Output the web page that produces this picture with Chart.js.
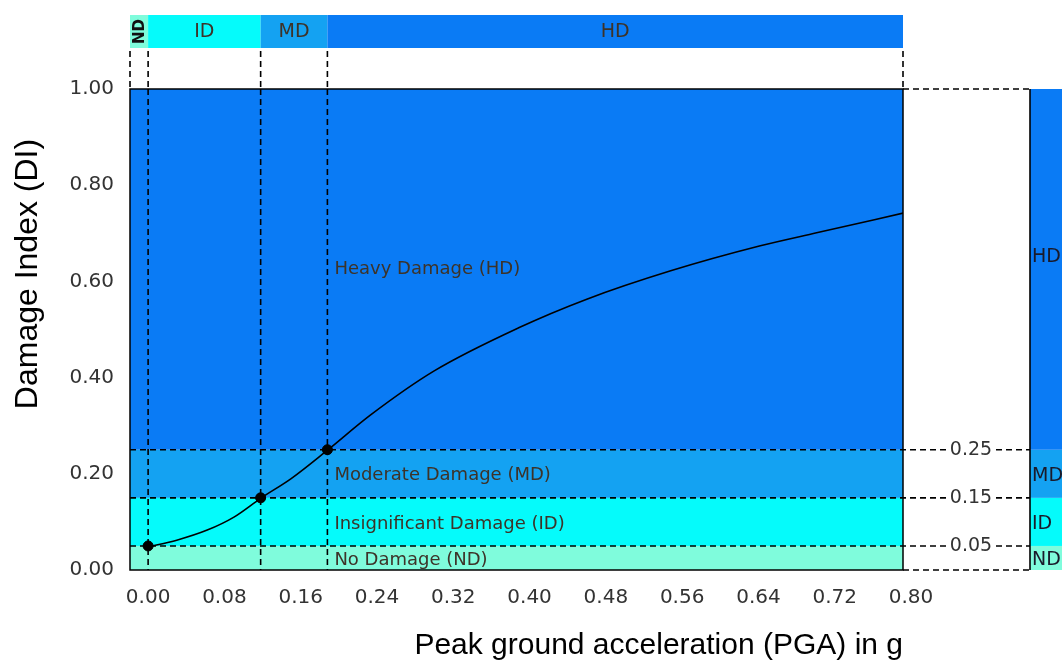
<!DOCTYPE html>
<html>
<head>
<meta charset="utf-8">
<script src="https://cdn.jsdelivr.net/npm/chart.js@4"></script>
<style>
  html, body { margin: 0; background: #fff; }
  #wrap { width: 1062px; height: 661px; position: relative; }
</style>
</head>
<body>
<div id="wrap"><canvas id="c"></canvas></div>
<script>
// damage curve
const pga = [0.000, 0.030, 0.062, 0.090, 0.118, 0.150, 0.188, 0.233, 0.300, 0.388, 0.460, 0.548, 0.642, 0.701, 0.792];
const damageIndex = [0.048, 0.062, 0.083, 0.110, 0.149, 0.190, 0.249, 0.322, 0.414, 0.503, 0.563, 0.622, 0.674, 0.701, 0.742];

// where the curve crosses each damage limit
const limitPga = [0.000, 0.118, 0.188];
const limitDi = [0.05, 0.15, 0.25];

const zoneCodes = ['ND', 'ID', 'MD', 'HD'];
const zoneNames = ['No Damage (ND)', 'Insignificant Damage (ID)', 'Moderate Damage (MD)', 'Heavy Damage (HD)'];
const zoneColors = ['#7ffcdc', '#05fbfb', '#14a2f2', '#0a7bf5'];

const xTicks = [0.00, 0.08, 0.16, 0.24, 0.32, 0.40, 0.48, 0.56, 0.64, 0.72, 0.80];
const yTicks = [0.00, 0.20, 0.40, 0.60, 0.80, 1.00];

const TXT = '#3d3328';
const FONT = 'DejaVu Sans';

function dashed(ctx, x0, y0, x1, y1) {
  ctx.beginPath();
  ctx.moveTo(x0, y0);
  ctx.lineTo(x1, y1);
  ctx.stroke();
}

const zonePlugin = {
  id: 'zones',
  beforeDatasetsDraw(chart) {
    const { ctx, chartArea: a, scales: { x, y } } = chart;
    const edges = [0, ...limitDi, 1];
    const xEdges = [a.left, ...limitPga.map(v => x.getPixelForValue(v)), a.right];
    const barTop = 15, barBot = 48, sideL = 1030;
    ctx.save();

    zoneColors.forEach((col, i) => {
      const y0 = y.getPixelForValue(edges[i]);
      const y1 = y.getPixelForValue(edges[i + 1]);
      ctx.fillStyle = col;
      ctx.fillRect(a.left, y1, a.width, y0 - y1);
      ctx.fillRect(sideL, y1, chart.width - sideL, y0 - y1);
      ctx.fillRect(xEdges[i], barTop, xEdges[i + 1] - xEdges[i], barBot - barTop);
    });

    // dashed guides
    ctx.strokeStyle = '#000';
    ctx.lineWidth = 1.6;
    ctx.setLineDash([6, 4]);
    xEdges.forEach((px, i) => {
      dashed(ctx, px, barBot + 3, px, a.top);
      if (i > 0 && i < xEdges.length - 1) dashed(ctx, px, a.top, px, a.bottom);
    });
    limitDi.forEach(v => {
      const py = y.getPixelForValue(v);
      dashed(ctx, a.left, py, 946, py);
      dashed(ctx, 996, py, sideL, py);
    });
    [0, 1].forEach(v => {
      const py = y.getPixelForValue(v);
      dashed(ctx, a.right, py, sideL, py);
    });
    ctx.setLineDash([]);

    // side strip edge
    ctx.strokeStyle = '#000';
    ctx.beginPath();
    ctx.moveTo(sideL, a.top);
    ctx.lineTo(sideL, a.bottom);
    ctx.stroke();

    ctx.textBaseline = 'middle';

    // limit values between the dashes
    ctx.font = `19px "${FONT}"`;
    ctx.fillStyle = '#333';
    ctx.textAlign = 'center';
    limitDi.forEach(v => ctx.fillText(v.toFixed(2), 971, y.getPixelForValue(v)));

    // zone names inside the plot
    ctx.font = `18px "${FONT}"`;
    ctx.fillStyle = TXT;
    ctx.textAlign = 'left';
    const labelX = x.getPixelForValue(limitPga[2]) + 7;
    zoneNames.forEach((name, i) => {
      const mid = i === 3 ? 0.63 : (edges[i] + edges[i + 1]) / 2;
      ctx.fillText(name, labelX, y.getPixelForValue(mid) + 2);
    });

    // side strip codes
    ctx.font = `19px "${FONT}"`;
    ctx.fillStyle = '#1a1a2a';
    zoneCodes.forEach((code, i) => {
      const mid = i === 3 ? 0.655 : (edges[i] + edges[i + 1]) / 2;
      ctx.fillText(code, sideL + 2, y.getPixelForValue(mid) + 2);
    });

    // top bar codes
    ctx.fillStyle = TXT;
    ctx.textAlign = 'center';
    zoneCodes.forEach((code, i) => {
      const cx = (xEdges[i] + xEdges[i + 1]) / 2;
      const cy = (barTop + barBot) / 2;
      if (i === 0) {
        ctx.save();
        ctx.translate(cx, cy);
        ctx.rotate(-Math.PI / 2);
        ctx.font = `bold 15px "${FONT}"`;
        ctx.fillStyle = '#111';
        ctx.fillText(code, 0, 1);
        ctx.restore();
      } else {
        ctx.fillText(code, cx, cy + 1);
      }
    });
    ctx.restore();
  },
  afterDatasetsDraw(chart) {
    const { ctx, chartArea: a } = chart;
    ctx.save();
    ctx.strokeStyle = '#000';
    ctx.lineWidth = 1.5;
    ctx.strokeRect(a.left, a.top, a.width, a.height);
    ctx.restore();
  },
  afterDraw(chart) {
    const { ctx } = chart;
    ctx.save();
    ctx.translate(28, 274);
    ctx.rotate(-Math.PI / 2);
    ctx.font = '32px "Liberation Sans"';
    ctx.fillStyle = '#000';
    ctx.textAlign = 'center';
    ctx.textBaseline = 'middle';
    ctx.fillText('Damage Index (DI)', 0, 0);
    ctx.restore();
  }
};

new Chart(document.getElementById('c'), {
  type: 'scatter',
  data: {
    datasets: [
      {
        data: pga.map((v, i) => ({ x: v, y: damageIndex[i] })),
        showLine: true,
        borderColor: '#000',
        borderWidth: 1.6,
        pointRadius: 0,
        cubicInterpolationMode: 'monotone',
      },
      {
        data: limitPga.map((v, i) => ({ x: v, y: limitDi[i] })),
        pointRadius: 5,
        backgroundColor: '#000',
        borderColor: '#000',
      },
    ],
  },
  options: {
    responsive: true,
    maintainAspectRatio: false,
    animation: false,
    events: [],
    layout: { padding: { top: 89, right: 159, left: 0, bottom: 0 } },
    plugins: { legend: { display: false }, tooltip: { enabled: false } },
    scales: {
      x: {
        type: 'linear',
        min: -0.019,
        max: 0.7916,
        grid: { display: false, drawTicks: false },
        border: { display: false },
        afterBuildTicks: s => { s.ticks = xTicks.map(v => ({ value: v })); },
        afterFit: s => { s.height = 91; },
        ticks: {
          autoSkip: false,
          maxRotation: 0,
          padding: 16,
          color: '#333',
          font: { family: FONT, size: 20 },
          callback: v => v.toFixed(2),
        },
        title: {
          display: true,
          text: 'Peak ground acceleration (PGA) in g',
          align: 'end',
          color: '#000',
          font: { family: 'Liberation Sans', size: 30 },
          padding: { top: 0, bottom: -3 },
        },
      },
      y: {
        min: 0,
        max: 1,
        grid: { display: false, drawTicks: false },
        border: { display: false },
        afterBuildTicks: s => { s.ticks = yTicks.map(v => ({ value: v })); },
        afterFit: s => { s.width = 130; },
        ticks: {
          padding: 16,
          color: '#333',
          font: { family: FONT, size: 20 },
          callback: v => v.toFixed(2),
        },
      },
    },
  },
  plugins: [zonePlugin],
});
</script>
</body>
</html>
